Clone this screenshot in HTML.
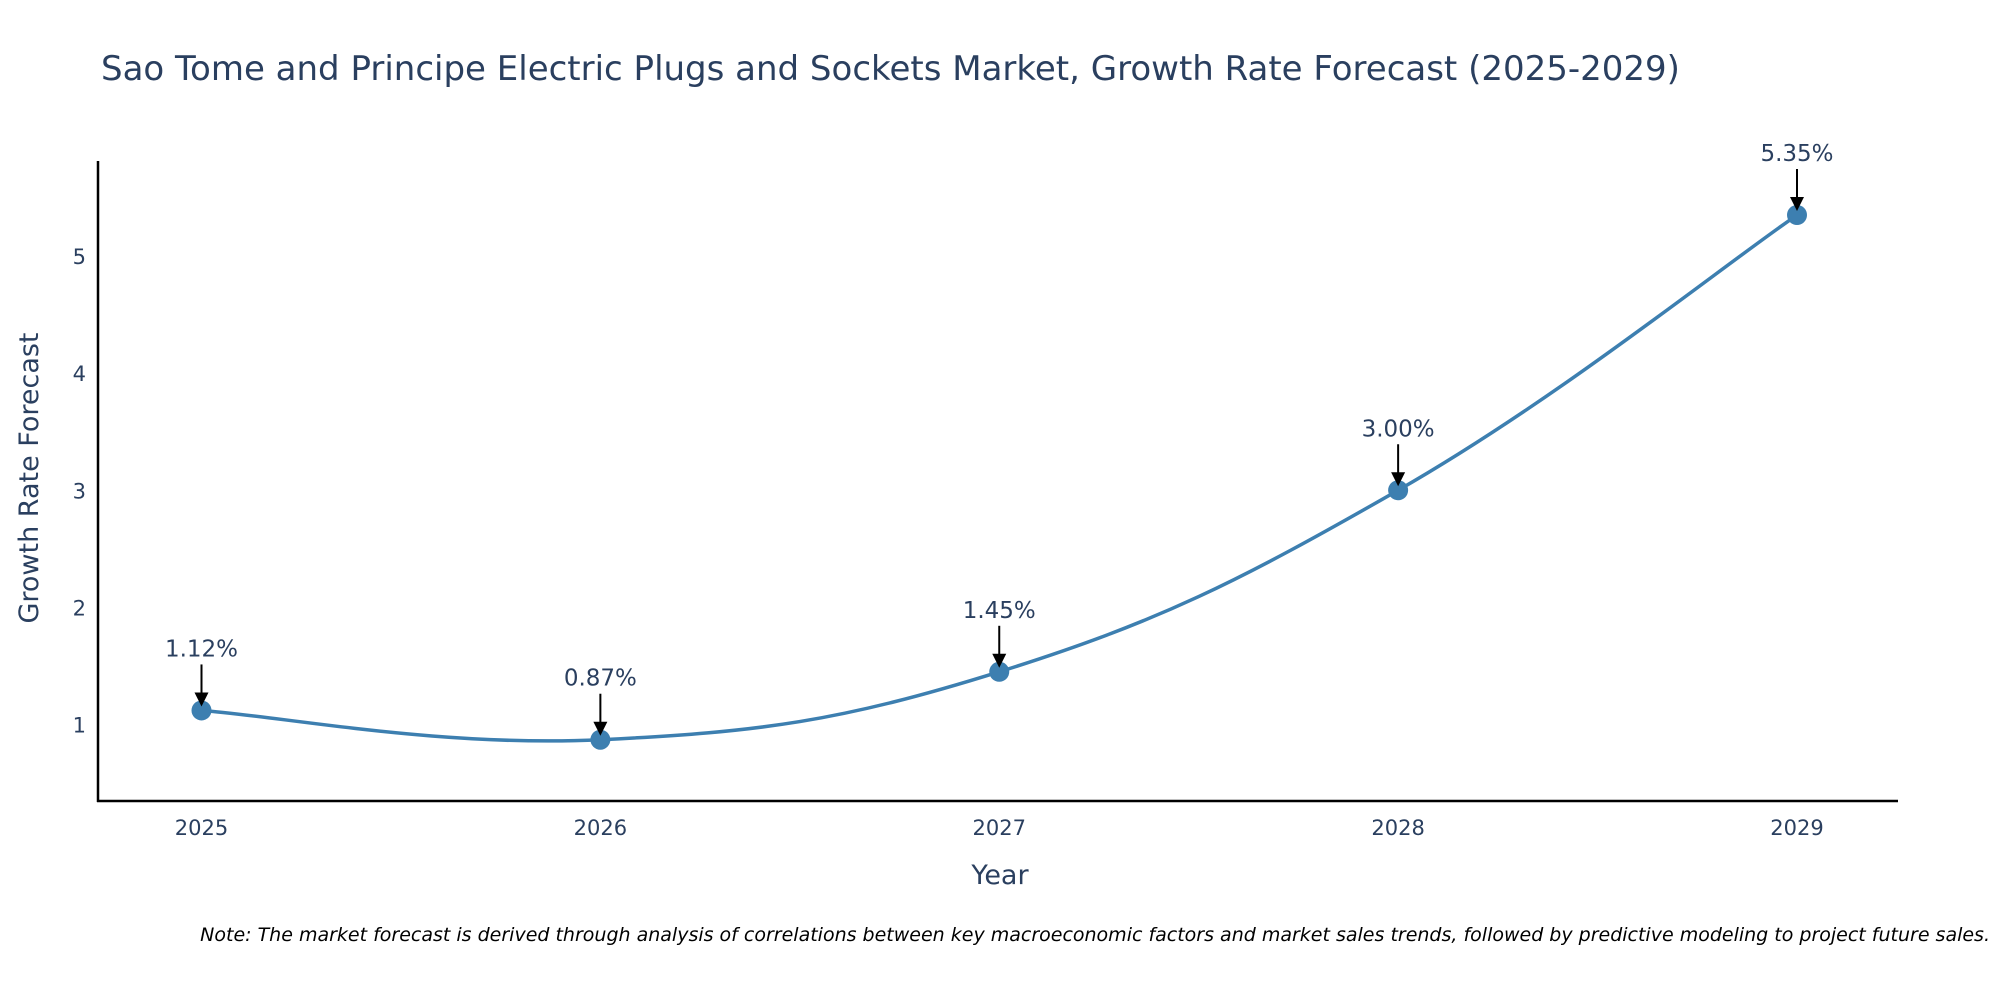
<!DOCTYPE html>
<html><head><meta charset="utf-8">
<style>
html,body{margin:0;padding:0;background:#fff;}
svg{display:block;font-family:"DejaVu Sans","Liberation Sans",sans-serif;}
</style></head>
<body>
<svg id="chart" width="2000" height="1000" viewBox="0 0 2000 1000">
<text x="101" y="80" font-size="34" fill="#2a3f5f">Sao Tome and Principe Electric Plugs and Sockets Market, Growth Rate Forecast (2025-2029)</text>
<line x1="98" y1="161" x2="98" y2="802" stroke="#000" stroke-width="2.5"/>
<line x1="97" y1="801" x2="1898" y2="801" stroke="#000" stroke-width="2.5"/>
<g id="yticks"></g><g id="xticks"></g>
<text x="1000" y="884" font-size="27" fill="#2a3f5f" text-anchor="middle">Year</text>
<text transform="translate(38,478) rotate(-90)" font-size="27" fill="#2a3f5f" text-anchor="middle">Growth Rate Forecast</text>
<path id="line" fill="none" stroke="#3d7fb0" stroke-width="3.5"/>
<g id="points"></g>
<text x="1990" y="941" font-size="19" font-style="italic" fill="#000" text-anchor="end">Note: The market forecast is derived through analysis of correlations between key macroeconomic factors and market sales trends, followed by predictive modeling to project future sales.</text>
</svg>
<script>
const years=[2025,2026,2027,2028,2029];
const values=[1.12,0.87,1.45,3.00,5.35];
const labels=["1.12%","0.87%","1.45%","3.00%","5.35%"];
const yTicks=[1,2,3,4,5];
const NS="http://www.w3.org/2000/svg";
function xs(i){return 201.5+(1797-201.5)*(i-2025)/4;}
function ys(v){return 724.5-(v-1)*117.125;}
const svg=document.getElementById('chart');
function mk(tag,attrs,parent){const e=document.createElementNS(NS,tag);for(const k in attrs)e.setAttribute(k,attrs[k]);(parent||svg).appendChild(e);return e;}
const yt=document.getElementById('yticks');
yTicks.forEach(t=>{const e=mk('text',{x:86,y:ys(t)+8,'font-size':21,fill:'#2a3f5f','text-anchor':'end'},yt);


e.textContent=t;});
const xt=document.getElementById('xticks');
years.forEach(y=>{const e=mk('text',{x:xs(y),y:835,'font-size':21,fill:'#2a3f5f','text-anchor':'middle'},xt);


e.textContent=y;});
const P=years.map((y,i)=>[xs(y),ys(values[i])]);
let d=`M${P[0][0]},${P[0][1]}`;const t=0.2;
for(let i=0;i<P.length-1;i++){const p0=P[Math.max(0,i-1)],p1=P[i],p2=P[i+1],p3=P[Math.min(P.length-1,i+2)];
const c1=[p1[0]+(p2[0]-p0[0])*t,p1[1]+(p2[1]-p0[1])*t];
const c2=[p2[0]-(p3[0]-p1[0])*t,p2[1]-(p3[1]-p1[1])*t];
d+=` C${c1[0]},${c1[1]} ${c2[0]},${c2[1]} ${p2[0]},${p2[1]}`;}
document.getElementById('line').setAttribute('d',d);
const pg=document.getElementById('points');
P.forEach((p,i)=>{
const c=mk('circle',{cx:p[0],cy:p[1],r:10,fill:'#3d7fb0'},pg);


const l=mk('line',{x1:p[0],y1:p[1]-46,x2:p[0],y2:p[1]-14,stroke:'#000','stroke-width':2},pg);


const h=mk('path',{d:`M${p[0]-7},${p[1]-18} L${p[0]+7},${p[1]-18} L${p[0]},${p[1]-4} Z`,fill:'#000'},pg);


const tx=mk('text',{x:p[0],y:p[1]-54,'font-size':23,fill:'#2a3f5f','text-anchor':'middle'},pg);


tx.textContent=labels[i];
});
</script>
</body></html>
